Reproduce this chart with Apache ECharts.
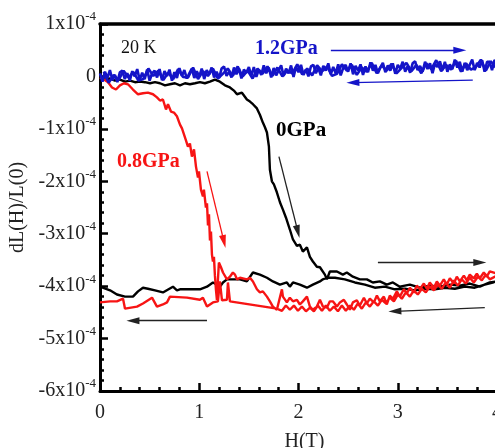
<!DOCTYPE html>
<html>
<head>
<meta charset="utf-8">
<script src="https://cdn.jsdelivr.net/npm/echarts@6/dist/echarts.min.js"></script>
<style>
  html, body { margin: 0; padding: 0; background: #fff; }
  #chart { width: 495px; height: 448px; }
</style>
</head>
<body>
<div id="chart"></div>
<script>
// values in units of 1e-4, H in tesla
const xTicks = [0, 1, 2, 3, 4]
const yTicks = [-6, -5, -4, -3, -2, -1, 0, 1]

// 0 GPa: field up, then field down
const black0GPa = [
  [0.000, -0.02], [0.050, -0.06], [0.101, -0.04], [0.151, -0.08], [0.201, -0.06], [0.252, -0.10],
  [0.302, -0.08], [0.352, -0.11], [0.403, -0.10], [0.453, -0.11], [0.504, -0.13], [0.554, -0.11],
  [0.604, -0.13], [0.655, -0.17], [0.705, -0.15], [0.755, -0.13], [0.806, -0.17], [0.856, -0.13],
  [0.906, -0.15], [0.957, -0.13], [1.007, -0.11], [1.057, -0.13], [1.108, -0.10], [1.158, -0.06],
  [1.208, -0.10], [1.259, -0.17], [1.309, -0.21], [1.349, -0.27], [1.380, -0.34], [1.430, -0.31],
  [1.480, -0.44], [1.511, -0.48], [1.541, -0.53], [1.581, -0.61], [1.611, -0.73], [1.641, -0.88],
  [1.662, -0.97], [1.682, -1.07], [1.702, -1.34], [1.712, -1.78], [1.732, -2.00], [1.752, -2.06],
  [1.782, -2.21], [1.813, -2.40], [1.843, -2.54], [1.873, -2.69], [1.913, -2.92], [1.944, -3.11],
  [1.984, -3.23], [2.014, -3.21], [2.044, -3.34], [2.085, -3.26], [2.115, -3.44], [2.145, -3.53],
  [2.185, -3.63], [2.216, -3.64], [2.266, -3.78], [2.286, -3.87], [2.316, -3.72], [2.387, -3.72],
  [2.447, -3.78], [2.487, -3.74], [2.548, -3.82], [2.618, -3.87], [2.689, -3.87], [2.749, -3.93],
  [2.820, -3.91], [2.890, -3.97], [2.951, -3.93], [3.021, -4.01], [3.122, -3.97], [3.223, -4.03],
  [3.323, -3.99], [3.424, -4.01], [3.525, -3.97], [3.625, -3.99], [3.726, -3.95], [3.827, -4.01],
  [3.927, -3.93], [4.000, -3.91],
  [3.877, -3.97], [3.776, -4.03], [3.676, -4.01], [3.575, -4.05], [3.474, -4.03], [3.374, -4.06],
  [3.273, -4.05], [3.172, -4.08], [3.072, -4.05], [2.971, -4.06], [2.870, -4.01], [2.769, -4.03],
  [2.669, -3.97], [2.568, -3.93], [2.467, -3.87], [2.367, -3.84], [2.286, -3.84], [2.246, -3.87],
  [2.216, -3.91], [2.145, -3.97], [2.085, -4.03], [2.014, -3.97], [1.944, -3.93], [1.913, -4.01],
  [1.883, -3.93], [1.813, -3.97], [1.742, -3.91], [1.682, -3.84], [1.611, -3.78], [1.541, -3.74],
  [1.480, -3.91], [1.410, -3.87], [1.339, -3.87], [1.279, -3.87], [1.239, -3.93], [1.208, -4.01],
  [1.178, -3.97], [1.138, -3.93], [1.078, -4.01], [1.007, -4.06], [0.906, -4.06], [0.806, -4.06],
  [0.775, -4.08], [0.735, -4.01], [0.634, -4.12], [0.554, -4.08], [0.483, -4.05], [0.433, -4.03],
  [0.383, -4.10], [0.332, -4.20], [0.252, -4.20], [0.171, -4.16], [0.101, -4.08], [0.000, -4.01]
]

// 0.8 GPa: field up, then field down
const red08GPa = [
  [0.000, -0.02], [0.040, -0.06], [0.081, -0.11], [0.121, -0.21], [0.161, -0.25], [0.201, -0.17],
  [0.242, -0.13], [0.282, -0.15], [0.332, -0.25], [0.383, -0.34], [0.433, -0.32], [0.483, -0.31],
  [0.534, -0.34], [0.574, -0.40], [0.604, -0.46], [0.634, -0.44], [0.665, -0.63], [0.685, -0.53],
  [0.715, -0.67], [0.745, -0.69], [0.775, -0.76], [0.806, -0.92], [0.826, -0.99], [0.846, -1.01],
  [0.866, -1.22], [0.886, -1.34], [0.906, -1.28], [0.926, -1.53], [0.947, -1.39], [0.967, -1.72],
  [0.987, -1.93], [0.997, -1.81], [1.017, -2.16], [1.037, -2.29], [1.047, -2.16], [1.067, -2.50],
  [1.078, -2.42], [1.088, -2.84], [1.098, -2.63], [1.108, -3.13], [1.118, -2.96], [1.128, -3.40],
  [1.138, -3.53], [1.148, -3.44], [1.158, -3.80], [1.168, -4.06], [1.178, -4.26], [1.188, -3.89],
  [1.198, -3.55], [1.219, -3.64], [1.239, -3.74], [1.279, -3.87], [1.309, -3.82], [1.339, -3.74],
  [1.360, -3.78], [1.380, -3.87], [1.410, -3.84], [1.480, -3.87], [1.511, -3.84], [1.541, -3.91],
  [1.581, -4.06], [1.611, -4.12], [1.641, -4.10], [1.682, -4.20], [1.712, -4.29], [1.742, -4.39],
  [1.782, -4.45], [1.833, -4.06], [1.843, -4.20], [1.883, -4.31], [1.913, -4.22], [1.944, -4.29],
  [1.984, -4.26], [2.014, -4.35], [2.044, -4.29], [2.085, -4.20], [2.115, -4.39], [2.145, -4.45],
  [2.185, -4.39], [2.216, -4.26], [2.246, -4.39], [2.286, -4.41], [2.316, -4.29], [2.346, -4.29],
  [2.387, -4.39], [2.417, -4.31], [2.457, -4.26], [2.487, -4.35], [2.518, -4.45], [2.548, -4.31],
  [2.588, -4.27], [2.618, -4.37], [2.659, -4.22], [2.689, -4.33], [2.719, -4.24], [2.759, -4.31],
  [2.790, -4.18], [2.820, -4.29], [2.860, -4.20], [2.890, -4.35], [2.920, -4.18], [2.951, -4.24],
  [2.991, -4.10], [3.021, -4.20], [3.061, -4.06], [3.092, -4.14], [3.122, -4.03], [3.162, -4.12],
  [3.192, -3.99], [3.223, -4.06], [3.263, -3.95], [3.293, -4.05], [3.323, -3.93], [3.364, -4.03],
  [3.394, -3.91], [3.424, -3.99], [3.464, -3.87], [3.494, -3.97], [3.525, -3.85], [3.565, -3.95],
  [3.595, -3.82], [3.625, -3.91], [3.666, -3.80], [3.696, -3.89], [3.726, -3.78], [3.766, -3.85],
  [3.797, -3.76], [3.827, -3.85], [3.867, -3.74], [3.897, -3.82], [3.927, -3.72], [4.000, -3.76],
  [4.000, -3.80], [3.927, -3.87], [3.887, -3.78], [3.847, -3.89], [3.807, -3.82], [3.766, -3.93],
  [3.726, -3.84], [3.686, -3.95], [3.645, -3.87], [3.605, -3.99], [3.565, -3.89], [3.525, -4.03],
  [3.484, -3.93], [3.444, -4.05], [3.404, -3.97], [3.364, -4.08], [3.323, -4.01], [3.283, -4.12],
  [3.243, -4.05], [3.202, -4.16], [3.162, -4.08], [3.122, -4.20], [3.082, -4.12], [3.041, -4.24],
  [3.001, -4.16], [2.961, -4.29], [2.920, -4.22], [2.880, -4.33], [2.840, -4.26], [2.800, -4.37],
  [2.759, -4.29], [2.719, -4.39], [2.679, -4.31], [2.638, -4.43], [2.598, -4.33], [2.558, -4.45],
  [2.518, -4.37], [2.477, -4.47], [2.437, -4.37], [2.397, -4.48], [2.356, -4.39], [2.316, -4.47],
  [2.276, -4.37], [2.236, -4.47], [2.195, -4.37], [2.155, -4.48], [2.115, -4.41], [2.075, -4.48],
  [2.034, -4.39], [1.994, -4.47], [1.954, -4.37], [1.913, -4.45], [1.873, -4.37], [1.833, -4.47],
  [1.782, -4.43], [1.309, -4.29], [1.289, -3.93], [1.279, -4.26], [1.229, -4.27], [1.208, -3.91],
  [1.188, -4.29], [1.138, -4.31], [1.078, -4.39], [1.037, -4.22], [1.007, -4.26], [0.876, -4.22],
  [0.705, -4.20], [0.675, -4.31], [0.634, -4.35], [0.574, -4.39], [0.524, -4.22], [0.433, -4.33],
  [0.373, -4.39], [0.252, -4.43], [0.232, -4.24], [0.171, -4.29], [0.101, -4.29], [0.000, -4.31]
]

// 1.2 GPa: field up, then field down (noisy, no transition)
const blue12GPaUp = [
  [0.000, 0.06], [0.025, -0.10], [0.050, 0.09], [0.075, -0.03], [0.100, 0.12], [0.125, -0.07],
  [0.150, 0.03], [0.175, -0.11], [0.200, 0.08], [0.225, 0.11], [0.250, -0.05], [0.275, 0.06],
  [0.300, -0.08], [0.325, 0.10], [0.350, 0.00], [0.375, 0.14], [0.400, -0.07], [0.425, 0.07],
  [0.450, -0.05], [0.475, 0.13], [0.500, -0.08], [0.525, 0.06], [0.550, 0.11], [0.575, -0.02],
  [0.600, 0.14], [0.625, -0.07], [0.650, 0.10], [0.675, 0.01], [0.700, 0.13], [0.725, -0.08],
  [0.750, 0.08], [0.775, -0.03], [0.800, 0.16], [0.825, 0.01], [0.850, 0.12], [0.875, -0.04],
  [0.900, 0.06], [0.925, 0.15], [0.950, -0.03], [0.975, 0.10], [1.000, 0.00], [1.025, 0.15],
  [1.050, -0.05], [1.075, 0.12], [1.100, 0.04], [1.125, 0.17], [1.150, -0.02], [1.175, 0.09],
  [1.200, -0.03], [1.225, 0.15], [1.250, 0.19], [1.275, 0.01], [1.300, 0.09], [1.325, -0.02],
  [1.350, 0.17], [1.375, 0.04], [1.400, 0.15], [1.425, -0.04], [1.450, 0.13], [1.475, 0.07],
  [1.500, 0.18], [1.525, 0.01], [1.550, 0.18], [1.575, -0.01], [1.600, 0.13], [1.625, 0.03],
  [1.650, 0.21], [1.675, 0.06], [1.700, 0.17], [1.725, -0.02], [1.750, 0.16], [1.775, 0.02],
  [1.800, 0.12], [1.825, 0.21], [1.850, 0.01], [1.875, 0.15], [1.900, 0.06], [1.925, 0.21],
  [1.950, -0.01], [1.975, 0.18], [2.000, 0.08], [2.025, 0.22], [2.050, 0.03], [2.075, 0.13],
  [2.100, 0.00], [2.125, 0.19], [2.150, 0.22], [2.175, 0.06], [2.200, 0.16], [2.225, 0.02],
  [2.250, 0.20], [2.275, 0.11], [2.300, 0.25], [2.325, 0.04], [2.350, 0.18], [2.375, 0.06],
  [2.400, 0.23], [2.425, 0.02], [2.450, 0.16], [2.475, 0.22], [2.500, 0.09], [2.525, 0.25],
  [2.550, 0.04], [2.575, 0.20], [2.600, 0.11], [2.625, 0.23], [2.650, 0.03], [2.675, 0.19],
  [2.700, 0.08], [2.725, 0.27], [2.750, 0.11], [2.775, 0.22], [2.800, 0.06], [2.825, 0.17],
  [2.850, 0.26], [2.875, 0.08], [2.900, 0.21], [2.925, 0.11], [2.950, 0.25], [2.975, 0.05],
  [3.000, 0.22], [3.025, 0.15], [3.050, 0.28], [3.075, 0.09], [3.100, 0.20], [3.125, 0.07],
  [3.150, 0.25], [3.175, 0.29], [3.200, 0.12], [3.225, 0.20], [3.250, 0.09], [3.275, 0.28],
  [3.300, 0.14], [3.325, 0.25], [3.350, 0.06], [3.375, 0.24], [3.400, 0.18], [3.425, 0.29],
  [3.450, 0.12], [3.475, 0.28], [3.500, 0.09], [3.525, 0.23], [3.550, 0.14], [3.575, 0.32],
  [3.600, 0.17], [3.625, 0.28], [3.650, 0.09], [3.675, 0.26], [3.700, 0.12], [3.725, 0.22],
  [3.750, 0.32], [3.775, 0.12], [3.800, 0.26], [3.825, 0.17], [3.850, 0.31], [3.875, 0.09],
  [3.900, 0.28], [3.925, 0.28], [3.950, 0.12], [3.975, 0.31], [4.000, 0.27]
]
const blue12GPaDown = [
  [3.9875, 0.17], [3.9375, 0.29], [3.8875, 0.11], [3.8375, 0.32], [3.7875, 0.18], [3.7375, 0.13],
  [3.6875, 0.25], [3.6375, 0.09], [3.5875, 0.30], [3.5375, 0.13], [3.4875, 0.22], [3.4375, 0.10],
  [3.3875, 0.31], [3.3375, 0.14], [3.2875, 0.25], [3.2375, 0.06], [3.1875, 0.22], [3.1375, 0.10],
  [3.0875, 0.26], [3.0375, 0.16], [2.9875, 0.06], [2.9375, 0.24], [2.8875, 0.11], [2.8375, 0.21],
  [2.7875, 0.06], [2.7375, 0.26], [2.6875, 0.09], [2.6375, 0.17], [2.5875, 0.03], [2.5375, 0.22],
  [2.4875, 0.11], [2.4375, 0.23], [2.3875, 0.05], [2.3375, 0.01], [2.2875, 0.19], [2.2375, 0.10],
  [2.1875, 0.21], [2.1375, 0.02], [2.0875, 0.15], [2.0375, 0.04], [1.9875, 0.23], [1.9375, 0.06],
  [1.8875, 0.11], [1.8375, 0.00], [1.7875, 0.17], [1.7375, 0.01], [1.6875, 0.19], [1.6375, 0.05],
  [1.5875, 0.15], [1.5375, -0.04], [1.4875, 0.11], [1.4375, 0.00], [1.3875, 0.19], [1.3375, 0.01],
  [1.2875, 0.15], [1.2375, 0.05], [1.1875, -0.04], [1.1375, 0.15], [1.0875, 0.01], [1.0375, 0.10],
  [0.9875, -0.05], [0.9375, 0.17], [0.8875, -0.02], [0.8375, -0.01], [0.7875, 0.14], [0.7375, -0.05],
  [0.6875, 0.07], [0.6375, -0.07], [0.5875, 0.11], [0.5375, 0.01], [0.4875, 0.15], [0.4375, -0.05],
  [0.3875, -0.08], [0.3375, 0.08], [0.2875, -0.02], [0.2375, 0.11], [0.1875, -0.07], [0.1375, 0.03],
  [0.0875, -0.12], [0.0375, 0.09]
]

// sweep arrows: [from, to] in data units
const blueArrows = [
  [[2.326, 0.50], [3.625, 0.50]],
  [[3.756, -0.07], [2.548, -0.12]]
]
const blackArrows = [
  [[1.803, -1.53], [1.994, -2.96]],
  [[2.800, -3.55], [3.827, -3.55]],
  [[3.877, -4.41], [2.971, -4.48]],
  [[1.078, -4.66], [0.332, -4.66]]
]
const redArrows = [
  [[1.078, -1.81], [1.249, -3.15]]
]

const serif = 'Liberation Serif, Times New Roman, serif'
const BLUE = '#1414c8'
const RED = '#f71414'

function arrowMarks(list, color) {
  return {
    silent: true,
    symbol: ['none', 'triangle'],
    symbolSize: [7, 13],
    label: { show: false },
    lineStyle: { color: color, width: 1.3, type: 'solid' },
    emphasis: { disabled: true },
    data: list.map(a => [{ coord: a[0] }, { coord: a[1] }])
  }
}

const chart = echarts.init(document.getElementById('chart'))
chart.setOption({
  animation: false,
  backgroundColor: '#fff',
  grid: { left: 100, top: 24, right: -2, bottom: 57, outerBoundsMode: 'none', containLabel: false },
  xAxis: [
    {
      type: 'value',
      min: xTicks[0],
      max: xTicks[xTicks.length - 1],
      interval: 1,
      name: 'H(T)',
      nameLocation: 'middle',
      nameGap: 41,
      nameTextStyle: { fontFamily: serif, fontSize: 20, color: '#222', padding: [0, 0, 0, 12] },
      axisLine: { onZero: false, lineStyle: { color: '#000', width: 3 } },
      axisTick: { inside: true, length: 8, lineStyle: { color: '#000', width: 2.5 } },
      minorTick: { show: true, splitNumber: 5, length: 4, lineStyle: { color: '#000', width: 2.5 } },
      splitLine: { show: false },
      axisLabel: { margin: 12, fontFamily: serif, fontSize: 20, color: '#222' }
    },
    {
      type: 'value',
      position: 'top',
      min: xTicks[0],
      max: xTicks[xTicks.length - 1],
      axisLine: { onZero: false, lineStyle: { color: '#000', width: 3.5 } },
      axisTick: { show: false },
      axisLabel: { show: false },
      splitLine: { show: false }
    }
  ],
  yAxis: {
    type: 'value',
    min: yTicks[0],
    max: yTicks[yTicks.length - 1],
    interval: 1,
    name: 'dL(H)/L(0)',
    nameLocation: 'middle',
    nameGap: 70,
    nameRotate: 90,
    nameTextStyle: { fontFamily: serif, fontSize: 20, color: '#222' },
    axisLine: { onZero: false, lineStyle: { color: '#000', width: 3 } },
    axisTick: { inside: true, length: 8, lineStyle: { color: '#000', width: 2.5 } },
    minorTick: { show: true, splitNumber: 5, length: 4, lineStyle: { color: '#000', width: 2.5 } },
    splitLine: { show: false },
    axisLabel: {
      margin: 4,
      formatter: v => v === 0 ? '{b|0}' : '{b|' + v + 'x10}{s|-4}',
      rich: {
        b: { fontFamily: serif, fontSize: 20, color: '#222' },
        s: { fontFamily: serif, fontSize: 13, color: '#222', padding: [0, 0, 14, 0] }
      }
    }
  },
  series: [
    {
      name: '0GPa',
      type: 'line',
      data: black0GPa,
      showSymbol: false,
      lineStyle: { color: '#000', width: 2.4 },
      markLine: arrowMarks(blackArrows, '#222')
    },
    {
      name: '0.8GPa',
      type: 'line',
      data: red08GPa,
      showSymbol: false,
      lineStyle: { color: RED, width: 2.4 },
      markLine: arrowMarks(redArrows, RED)
    },
    {
      name: '1.2GPa up',
      type: 'line',
      data: blue12GPaUp,
      showSymbol: false,
      lineStyle: { color: BLUE, width: 2.6 },
      markLine: arrowMarks(blueArrows, BLUE)
    },
    {
      name: '1.2GPa down',
      type: 'line',
      data: blue12GPaDown,
      showSymbol: false,
      lineStyle: { color: BLUE, width: 2.6 }
    }
  ],
  graphic: [
    { type: 'text', left: 121, top: 39, style: { text: '20 K', font: '18px ' + serif, fill: '#111' } },
    { type: 'text', left: 255, top: 39, style: { text: '1.2GPa', font: 'bold 20px ' + serif, fill: BLUE } },
    { type: 'text', left: 276, top: 120, style: { text: '0GPa', font: 'bold 21px ' + serif, fill: '#000' } },
    { type: 'text', left: 117, top: 152, style: { text: '0.8GPa', font: 'bold 20px ' + serif, fill: RED } }
  ]
})
</script>
</body>
</html>
